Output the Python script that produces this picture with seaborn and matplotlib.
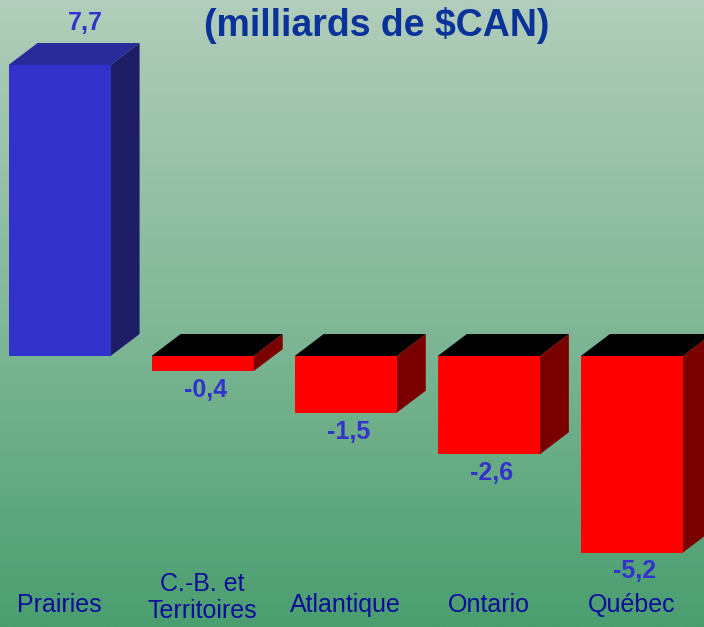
import numpy as np
import pandas as pd
import matplotlib
matplotlib.use("Agg")
import matplotlib.pyplot as plt
from matplotlib.patches import Polygon
from matplotlib.colors import LinearSegmentedColormap
import seaborn as sns

# data
regions = ["Prairies", "C.-B. et\nTerritoires", "Atlantique", "Ontario", "Québec"]
values = [7.7, -0.4, -1.5, -2.6, -5.2]
value_labels = ["7,7", "-0,4", "-1,5", "-2,6", "-5,2"]
title = "(milliards de $CAN)"

df = pd.DataFrame({"region": regions, "value": values})

sns.set_theme(style="white")
plt.rcParams["font.family"] = ["Liberation Sans", "DejaVu Sans"]

fig = plt.figure(figsize=(7.04, 6.27), dpi=100)
ax = fig.add_axes([0, 0, 1, 1])

xlim = (-0.416, 4.504)
ylim = (-7.17, 9.42)

# gradient background
cmap = LinearSegmentedColormap.from_list("bg", ["#b2cdbb", "#82b898", "#4a9e70"])
grad = np.linspace(0, 1, 256).reshape(-1, 1)
ax.imshow(grad, cmap=cmap, aspect="auto", extent=(xlim[0], xlim[1], ylim[0], ylim[1]),
          origin="upper", zorder=0)

front = {r: ("#3333cc" if v > 0 else "#ff0000") for r, v in zip(regions, values)}
sns.barplot(data=df, x="region", y="value", hue="region", palette=front,
            saturation=1, width=0.713, legend=False, ax=ax, zorder=3, linewidth=0)

# 3D depth faces built from the bar patches
dx, dy = 0.203, 0.582
for p, v in zip(ax.patches, values):
    x0 = p.get_x()
    x1 = x0 + p.get_width()
    h = p.get_height()
    if v > 0:
        top_c, side_c = "#2a2a9a", "#1e1e66"
        top = [(x0, h), (x1, h), (x1 + dx, h + dy), (x0 + dx, h + dy)]
        side = [(x1, 0), (x1, h), (x1 + dx, h + dy), (x1 + dx, dy)]
    else:
        top_c, side_c = "#000000", "#7a0000"
        top = [(x0, 0), (x1, 0), (x1 + dx, dy), (x0 + dx, dy)]
        side = [(x1, h), (x1, 0), (x1 + dx, dy), (x1 + dx, h + dy)]
    ax.add_patch(Polygon(top, closed=True, facecolor=top_c, edgecolor="none", zorder=2))
    ax.add_patch(Polygon(side, closed=True, facecolor=side_c, edgecolor="none", zorder=2))

# value labels
for i, (v, lab) in enumerate(zip(values, value_labels)):
    if v > 0:
        ax.text(i + dx * 0.9, v + dy + 0.2, lab, ha="center", va="bottom",
                fontsize=18, fontweight="bold", color="#3333cc", zorder=5)
    else:
        ax.text(i + 0.02, v - 0.18, lab, ha="center", va="top",
                fontsize=18, fontweight="bold", color="#3333cc", zorder=5)

# category labels (two-line label sits a little higher so it stays inside)
for i, r in enumerate(regions):
    y = -6.6 if "\n" not in r else -6.4
    ax.text(i, y, r, ha="center", va="center", fontsize=18,
            color="#0d0d99", zorder=5, linespacing=1.15)

ax.set_xlim(*xlim)
ax.set_ylim(*ylim)
ax.axis("off")

fig.text(377 / 704, 1 - 25 / 627, title, ha="center", va="center",
         fontsize=27, fontweight="bold", color="#0a3399")

fig.savefig("out.png", dpi=100)
